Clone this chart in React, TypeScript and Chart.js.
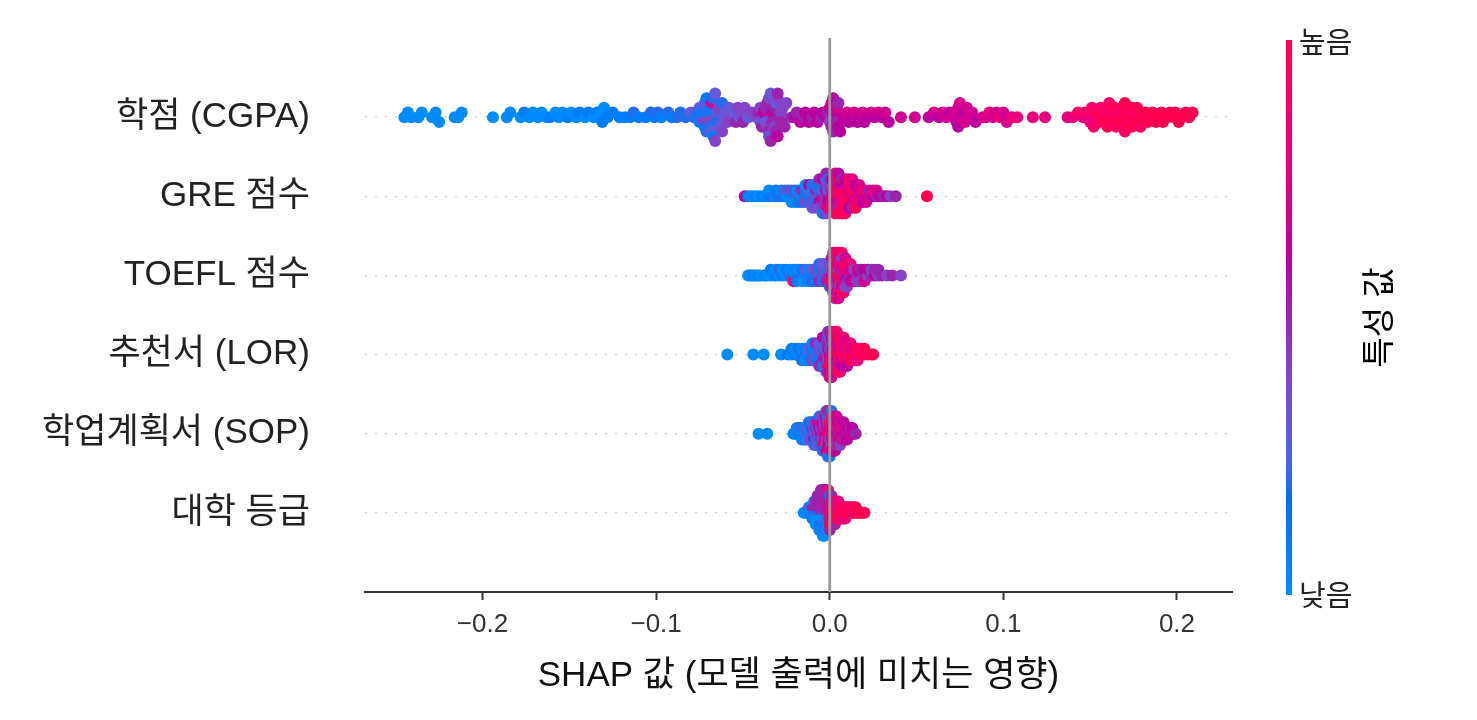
import React, { useEffect, useRef } from 'react';
import { Chart, registerables } from 'chart.js';

Chart.register(...registerables);

type Group = [number, number[]];

// Feature names, top row first
const FEATURE_NAMES = ['학점 (CGPA)', 'GRE 점수', 'TOEFL 점수', '추천서 (LOR)', '학업계획서 (SOP)', '대학 등급'];
const X_LABEL = 'SHAP 값 (모델 출력에 미치는 영향)';
const CB_LABEL = '특성 값';
const CB_HIGH = '높음';
const CB_LOW = '낮음';
const X_TICK_STEP = 0.1;

// Each group: [SHAP value x1000, feature values (0..10) of the points having that SHAP value]
const CGPA: Group[] = [
  [-245, [0]], [-243, [0]], [-241, [0]], [-237, [0]], [-235, [0]],
  [-229, [0]], [-227, [0]], [-225, [0]],
  [-216, [0]], [-214, [0]], [-212, [0]],
  [-194, [0]],
  [-186, [0]], [-184, [0]],
  [-178, [0]], [-176, [1]], [-173, [0]], [-171, [0]], [-168, [0]], [-166, [0]], [-163, [0]], [-161, [1]],
  [-158, [0]], [-156, [0]], [-154, [0]], [-151, [1]], [-149, [0]], [-146, [0]], [-144, [1]], [-141, [0]], [-139, [1]],
  [-136, [0]], [-134, [1]], [-133, [0]], [-132, [0]], [-131, [1]], [-130, [0]], [-128, [1]],
  [-125, [1]], [-121, [1]], [-118, [1]], [-115, [1]], [-113, [2]], [-110, [1]],
  [-106, [1]], [-103, [2]], [-101, [1]], [-99, [2]], [-97, [1]],
  [-93, [2]], [-91, [1]], [-88, [2]], [-86, [2]],
  [-83, [2]], [-80, [3]], [-78, [2]],
  [-76, [2]], [-75, [1, 3]], [-74, [2, 1]], [-73, [4, 2]], [-72, [1, 3]], [-71, [2, 1]], [-70, [3, 2, 4]], [-69, [1, 2]],
  [-68, [7, 3]], [-67, [2, 1]], [-66, [3, 4]], [-65, [2, 3]], [-64, [2, 4]], [-63, [3]], [-62, [2, 4]], [-61, [3]],
  [-60, [3]], [-59, [4]], [-58, [3]],
  [-56, [4]], [-55, [3]], [-54, [5]], [-53, [4]], [-52, [3]], [-51, [4]], [-50, [5]], [-49, [4]], [-47, [3]], [-45, [4]],
  [-42, [4]], [-41, [5]], [-40, [3, 4]], [-39, [5]], [-38, [4, 6]], [-37, [3, 5]], [-36, [4, 5]], [-35, [5, 4, 3]],
  [-34, [3, 5]], [-33, [4, 6, 5]], [-32, [5, 4]], [-31, [3, 5]], [-30, [4, 6, 5]], [-29, [5]], [-28, [4, 5]], [-27, [4]],
  [-26, [5]], [-25, [4]],
  [-22, [5]], [-20, [6]], [-19, [5]], [-17, [6]], [-15, [5]], [-14, [6]], [-12, [6]], [-10, [5]], [-9, [6]], [-7, [6]],
  [-5, [5]], [-4, [6]], [-2, [6]],
  [-1, [5]], [0, [4, 6]], [1, [5, 7]], [2, [5, 6]], [3, [4, 6]], [4, [5, 7]], [5, [6, 5]], [6, [6]],
  [8, [6]], [10, [7]], [11, [6]], [13, [6]], [14, [7]], [16, [6]], [17, [6]], [19, [7]], [20, [6]], [22, [6]], [24, [7]],
  [26, [6]], [28, [7]], [30, [6]], [32, [7]], [34, [6]],
  [41, [7]], [49, [7]], [57, [6]],
  [60, [7]], [63, [6]], [65, [7]], [67, [7]], [69, [6]], [71, [7]], [72, [7]], [73, [6]], [74, [7, 6]], [75, [7]], [76, [7]],
  [77, [6]], [78, [7]], [79, [7]], [80, [7]], [82, [7]], [84, [6]],
  [88, [7]], [90, [7]], [92, [8]], [94, [7]], [96, [7]], [98, [8]], [100, [7]], [102, [7]], [105, [8]], [108, [8]],
  [117, [8]], [124, [8]], [137, [8]], [140, [8]], [143, [9]],
  [146, [8]], [147, [9]], [148, [8]], [149, [9]], [150, [8]], [151, [9]], [152, [9]], [153, [8]], [154, [10]], [155, [9]],
  [156, [9]], [157, [10]], [158, [9]], [159, [10]], [160, [9, 10]], [161, [9]], [162, [10]], [163, [9, 10]], [164, [10]],
  [165, [9]], [166, [10, 9]], [167, [10]], [168, [9]], [169, [10]], [170, [10, 9]], [171, [10]], [172, [10]], [173, [9]],
  [174, [10, 10]], [175, [10, 9]],
  [176, [10]], [177, [10]], [179, [9]], [180, [10]], [182, [10]], [183, [10]], [185, [10]], [186, [10]], [188, [10]],
  [189, [10]], [191, [10]], [192, [10]], [194, [10]], [196, [10]], [198, [10]], [199, [10]], [201, [10]], [203, [10]],
  [205, [10]], [207, [10]], [209, [10]],
];

const GRE: Group[] = [
  [-49, [6]], [-47, [1]], [-45, [0]], [-43, [1]], [-41, [0]], [-39, [1]], [-37, [0]], [-35, [1, 0]], [-33, [2]],
  [-31, [0, 1]], [-30, [1]], [-28, [2, 0]], [-26, [1, 3]], [-24, [0, 2]], [-22, [1, 4, 0]], [-20, [2, 1, 0]],
  [-18, [3, 1, 2]], [-16, [0, 5, 1]], [-14, [2, 1, 4, 0]], [-12, [1, 3, 2, 6]], [-10, [2, 0, 4, 1, 3]],
  [-8, [3, 5, 1, 2, 4]], [-6, [4, 2, 6, 1, 3, 5]], [-4, [5, 3, 7, 2, 4, 6, 1]], [-2, [4, 6, 2, 5, 8, 3, 4, 5]],
  [-1, [5, 3, 6, 4, 7, 2]], [1, [7, 5, 8, 4, 9, 6]], [3, [9, 8, 6, 10, 7, 5, 9, 8]], [5, [10, 9, 7, 8, 5, 10, 9, 6]],
  [7, [9, 10, 8, 6, 9, 5, 10]], [9, [8, 10, 9, 7, 10, 6, 9]], [11, [9, 7, 10, 8, 6, 9]], [13, [8, 10, 7, 9, 5, 8]],
  [15, [7, 9, 8, 6, 10]], [17, [8, 6, 9, 7]], [19, [7, 9, 6]], [21, [6, 8, 7]], [23, [7, 5]], [25, [6, 8]], [27, [5, 7]],
  [29, [6]], [31, [5]], [33, [6]], [35, [4]], [38, [5]], [56, [10]],
];

const TOEFL: Group[] = [
  [-47, [0]], [-46, [0]], [-45, [0]], [-44, [1]], [-43, [0]], [-42, [0]], [-41, [1]], [-40, [0]], [-38, [0]], [-37, [1]],
  [-36, [0]], [-34, [0, 1]], [-32, [0]], [-31, [1, 0]], [-29, [0, 2]], [-27, [1, 0]], [-25, [0, 1]], [-23, [2, 0]],
  [-21, [1, 0, 8]], [-19, [0, 2, 1]], [-18, [1, 0]], [-16, [2, 1, 0]], [-14, [1, 3, 0]], [-12, [2, 0, 1]], [-10, [1, 3, 2]],
  [-8, [2, 4, 1]], [-6, [3, 1, 5, 2]], [-4, [2, 4, 1, 3]], [-2, [4, 2, 5, 3]], [0, [5, 3, 8, 4, 2]], [1, [6, 4, 9, 3, 7, 5]],
  [2, [9, 5, 10, 4, 8, 6, 3, 7]], [3, [10, 6, 9, 4, 8, 5, 10, 7, 3]], [4, [8, 10, 5, 9, 4, 10, 6, 8, 9]],
  [5, [9, 4, 10, 6, 8, 5, 9, 10, 7]], [6, [10, 5, 8, 9, 4, 10, 6, 8]], [7, [8, 10, 5, 9, 6, 4, 10, 9]],
  [8, [9, 5, 10, 6, 8, 4, 9]], [9, [5, 8, 6, 10, 4, 7]], [10, [6, 8, 5, 9, 4]], [12, [5, 7, 6, 8]], [14, [6, 4, 7]],
  [16, [5, 7, 4]], [18, [6, 5, 4]], [20, [5, 6, 7]], [22, [4, 6]], [24, [5, 4]], [26, [6, 5]], [28, [4, 5]], [30, [5]],
  [33, [4]], [36, [5]], [41, [4]],
];

const LOR: Group[] = [
  [-59, [0]], [-44, [0]], [-38, [0]], [-28, [0]], [-24, [1]], [-22, [0, 1]], [-20, [1, 0]], [-18, [0, 2]], [-16, [1, 0, 2]],
  [-14, [2, 1, 0]], [-12, [0, 3, 1]], [-10, [2, 1, 4, 0]], [-8, [3, 1, 2, 5]], [-6, [2, 4, 1, 3, 5]], [-4, [4, 2, 5, 3, 1, 6]],
  [-2, [5, 3, 6, 2, 4, 7, 3]], [-1, [4, 6, 3, 5, 8, 2, 5, 4]], [0, [6, 4, 7, 5, 9, 3, 6, 5, 8]],
  [1, [7, 5, 9, 4, 10, 6, 8, 5, 7]], [2, [9, 6, 10, 5, 8, 4, 9, 7]], [3, [10, 7, 9, 5, 8, 10, 6, 9]],
  [4, [9, 10, 6, 8, 5, 10, 7, 9]], [5, [10, 8, 9, 6, 10, 7, 9]], [6, [9, 7, 10, 8, 6, 10, 9]], [7, [10, 8, 6, 9, 7, 10]],
  [8, [8, 10, 7, 9, 6, 8]], [9, [9, 7, 10, 8, 6]], [10, [10, 8, 9, 7, 6]], [11, [8, 10, 7, 9]], [12, [9, 7, 10, 8]],
  [14, [10, 8, 9]], [16, [9, 10, 8]], [18, [10, 9]], [20, [9, 10]], [22, [10]], [24, [9]], [25, [10]],
];

const SOP: Group[] = [
  [-41, [0]], [-36, [0]], [-21, [0]], [-20, [1]], [-19, [0, 2]], [-18, [1, 0]], [-17, [2, 1]], [-16, [0, 3, 1]],
  [-15, [1, 2, 0]], [-14, [3, 0, 2]], [-13, [1, 4, 0]], [-12, [2, 0, 3, 1]], [-11, [3, 1, 4, 2]], [-10, [1, 5, 2, 3]],
  [-9, [4, 2, 6, 1, 3]], [-8, [3, 5, 1, 4, 2]], [-7, [5, 2, 4, 7, 3]], [-6, [4, 6, 2, 5, 3, 1]], [-5, [6, 3, 5, 8, 2, 4]],
  [-4, [5, 7, 3, 6, 9, 4, 2]], [-3, [7, 4, 6, 3, 8, 5, 1]], [-2, [6, 9, 4, 7, 3, 5, 8, 2]], [-1, [8, 5, 10, 4, 7, 2, 6, 9, 3]],
  [0, [9, 6, 4, 10, 7, 3, 8, 5, 1]], [1, [7, 10, 5, 8, 4, 9, 6, 2]], [2, [9, 6, 10, 5, 8, 4, 7]], [3, [8, 5, 10, 7, 4, 9, 6]],
  [4, [6, 9, 5, 8, 4, 7]], [5, [7, 5, 9, 6, 8]], [6, [5, 8, 6, 7, 4]], [7, [6, 9, 5, 7]], [8, [7, 5, 8, 6]], [9, [6, 7, 5]],
  [10, [5, 7, 6]], [11, [7, 6]], [12, [6, 5]], [13, [7, 6]], [14, [6]], [15, [5]],
];

const UNIV: Group[] = [
  [-15, [0]], [-14, [0]], [-12, [0, 2]], [-11, [2, 0]], [-10, [0, 5, 2]], [-9, [2, 5, 0, 0]], [-8, [2, 5, 0, 5, 0]],
  [-7, [2, 5, 0, 5, 0, 5]], [-6, [2, 5, 0, 5, 0, 5, 2]], [-5, [5, 5, 0, 5, 2, 5, 0, 5]], [-4, [5, 5, 0, 5, 2, 5, 0, 5, 0]],
  [-3, [2, 5, 0, 5, 0, 5, 2, 5, 0]], [-2, [5, 5, 0, 8, 2, 5, 0, 5]], [-1, [5, 8, 2, 5, 0, 5, 0, 8]], [0, [8, 5, 10, 5, 8, 2, 5]],
  [1, [10, 8, 5, 8, 10, 5]], [2, [8, 10, 8, 5, 10]], [3, [10, 8, 10, 8, 5]], [4, [10, 8, 10, 8]], [5, [8, 10, 10, 8]],
  [6, [10, 8, 10]], [7, [10, 10, 8]], [8, [10, 8, 10]], [9, [10, 10, 8]], [10, [10, 10]], [11, [10, 8]], [12, [10, 10]],
  [13, [10, 8]], [14, [10, 10]], [15, [8, 10]], [16, [10]], [17, [10]], [18, [10]], [19, [10]], [20, [10]],
];

const ROW_DATA: Group[][] = [CGPA, GRE, TOEFL, LOR, SOP, UNIV];

const FONT = "'Liberation Sans', 'Noto Sans CJK KR', sans-serif";

// shap red_blue colormap (LCH interpolation)
function cmap(t: number): string {
  t = Math.max(0, Math.min(1, t));
  const i = t * 99;
  const L = i < 49.5 ? 54 + (40 - 54) * Math.min(i / 49, 1) : 40 + (54 - 40) * Math.max((i - 50) / 49, 0);
  const C = 70 + 20 * t;
  const H = 4.6588 + (0.35470565 + 2 * Math.PI - 4.6588) * t;
  const a = C * Math.cos(H);
  const b = C * Math.sin(H);
  const fy = (L + 16) / 116;
  const fx = fy + a / 500;
  const fz = fy - b / 200;
  const finv = (v: number) => (v > 0.2068966 ? v * v * v : (v - 16 / 116) / 7.787);
  const X = 0.95047 * finv(fx);
  const Y = finv(fy);
  const Z = 1.08883 * finv(fz);
  const r = 3.2404542 * X - 1.5371385 * Y - 0.4985314 * Z;
  const g = -0.969266 * X + 1.8760108 * Y + 0.041556 * Z;
  const bl = 0.0556434 * X - 0.2040259 * Y + 1.0572252 * Z;
  const gam = (c: number) => {
    const v = c > 0.0031308 ? 1.055 * Math.pow(c, 1 / 2.4) - 0.055 : 12.92 * c;
    return Math.round(255 * Math.max(0, Math.min(1, v)));
  };
  return `rgb(${gam(r)},${gam(g)},${gam(bl)})`;
}

// beeswarm vertical offsets, same rule as shap's summary plot
function swarmOffsets(xs: number[]): number[] {
  const n = xs.length;
  const mn = Math.min(...xs);
  const mx = Math.max(...xs);
  const quant = xs.map((v) => Math.round((100 * (v - mn)) / (mx - mn + 1e-8)));
  const inds = xs.map((_, i) => i).sort((p, q) => quant[p] - quant[q] || p - q);
  const ys = new Array(n).fill(0);
  let layer = 0;
  let last = -1;
  for (const ind of inds) {
    if (quant[ind] !== last) layer = 0;
    ys[ind] = Math.ceil(layer / 2) * ((layer % 2) * 2 - 1);
    layer += 1;
    last = quant[ind];
  }
  const m = Math.max(...ys.map((y) => y + 1));
  return ys.map((y) => (y * 0.9 * 0.4) / m);
}

const colorbarPlugin = {
  id: 'shapColorbar',
  afterDraw(chart: any) {
    const { ctx, chartArea } = chart;
    const x0 = chartArea.right + 54;
    const w = 6;
    const top = chartArea.top + 2;
    const bottom = chartArea.bottom + 3;
    ctx.save();
    const grad = ctx.createLinearGradient(0, bottom, 0, top);
    for (let k = 0; k <= 40; k++) grad.addColorStop(k / 40, cmap(k / 40));
    ctx.fillStyle = grad;
    ctx.fillRect(x0, top, w, bottom - top);
    ctx.fillStyle = '#222222';
    ctx.font = `29px ${FONT}`;
    ctx.textAlign = 'left';
    ctx.textBaseline = 'middle';
    ctx.fillText(CB_HIGH, x0 + 13, top + 5);
    ctx.fillText(CB_LOW, x0 + 13, bottom + 3);
    ctx.translate(x0 + 95, (top + bottom) / 2);
    ctx.rotate(-Math.PI / 2);
    ctx.textAlign = 'center';
    ctx.font = `33px ${FONT}`;
    ctx.fillStyle = '#000000';
    ctx.fillText(CB_LABEL, 0, 0);
    ctx.restore();
  },
};

export default function App() {
  const ref = useRef<HTMLCanvasElement | null>(null);

  useEffect(() => {
    if (!ref.current) return;
    const nRows = ROW_DATA.length;
    let allMin = Infinity;
    let allMax = -Infinity;
    const datasets: any[] = ROW_DATA.map((groups, i) => {
      const pos = nRows - 1 - i;
      const xs: number[] = [];
      const fvs: number[] = [];
      groups.forEach(([v, f]) => f.forEach((fv) => { xs.push(v / 1000); fvs.push(fv / 10); }));
      xs.forEach((x) => { allMin = Math.min(allMin, x); allMax = Math.max(allMax, x); });
      const ys = swarmOffsets(xs);
      return {
        label: FEATURE_NAMES[i],
        data: xs.map((x, k) => ({ x, y: pos + ys[k] })),
        pointBackgroundColor: fvs.map(cmap),
        pointBorderWidth: 0,
        pointRadius: 6,
        pointHoverRadius: 6,
        showLine: false,
        order: 1,
      };
    });
    const span = allMax - allMin;
    const xMin = allMin - 0.05 * span;
    const xMax = allMax + 0.05 * span;
    datasets.push({
      label: 'zero',
      data: [{ x: 0, y: -1 }, { x: 0, y: nRows }],
      showLine: true,
      borderColor: '#999999',
      borderWidth: 2.8,
      pointRadius: 0,
      order: 0,
    });

    const chart = new Chart(ref.current, {
      type: 'scatter',
      data: { datasets },
      options: {
        animation: false,
        responsive: false,
        maintainAspectRatio: false,
        layout: { padding: { top: 38, right: 245, left: 0, bottom: 0 } },
        plugins: { legend: { display: false }, tooltip: { enabled: false } },
        scales: {
          x: {
            type: 'linear',
            min: xMin,
            max: xMax,
            afterFit: (s: any) => { s.height = 128; s.paddingLeft = 0; s.paddingRight = 0; },
            ticks: {
              stepSize: X_TICK_STEP,
              includeBounds: false,
              maxRotation: 0,
              minRotation: 0,
              padding: 9,
              color: '#333333',
              font: { size: 26, family: FONT },
              callback: (v: any) => Number(v).toFixed(1).replace('-', '\u2212'),
            },
            grid: { display: true, drawOnChartArea: false, drawTicks: true, tickLength: 8, tickWidth: 2, tickColor: '#333333' },
            border: { display: true, color: '#333333', width: 2 },
            title: {
              display: true,
              text: X_LABEL,
              color: '#111111',
              font: { size: 35, family: FONT },
              padding: { top: 0, bottom: 23 },
            },
          },
          y: {
            type: 'linear',
            min: -1,
            max: nRows,
            afterFit: (s: any) => { s.width = 365; s.paddingTop = 0; s.paddingBottom = 0; },
            ticks: {
              stepSize: 1,
              autoSkip: false,
              padding: 55,
              color: '#222222',
              font: { size: 35, family: FONT },
              callback: (v: any) => (v >= 0 && v <= nRows - 1 ? FEATURE_NAMES[nRows - 1 - v] : ''),
            },
            grid: {
              drawTicks: false,
              lineWidth: 1.3,
              color: (c: any) => (c.tick && c.tick.value >= 0 && c.tick.value <= nRows - 1 ? '#cccccc' : 'rgba(0,0,0,0)'),
            },
            border: { display: false, dash: [2, 8] },
          },
        },
      },
      plugins: [colorbarPlugin],
    } as any);
    return () => chart.destroy();
  }, []);

  return (
    <div style={{ position: 'fixed', left: 0, top: 0, width: 1477, height: 720, background: '#ffffff' }}>
      <canvas ref={ref} width={1477} height={720} style={{ display: 'block', width: 1477, height: 720 }} />
    </div>
  );
}
